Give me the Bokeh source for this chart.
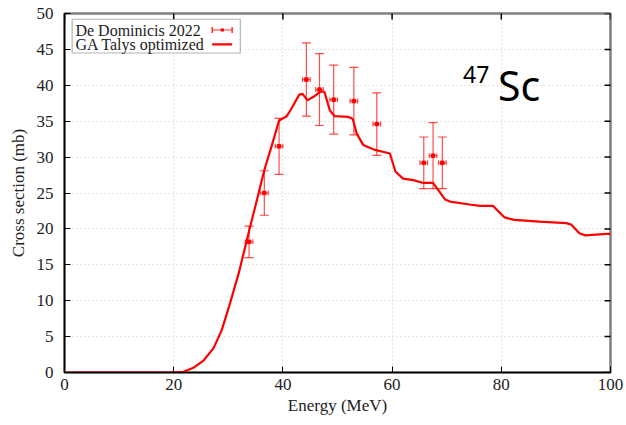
import math
from bokeh.plotting import figure
from bokeh.models import (ColumnDataSource, Whisker, TeeHead, Label, FixedTicker, Range1d,
                          BoxAnnotation, Arrow)
from bokeh.embed import file_html
from bokeh.resources import INLINE

# ---- data ----
energy_curve = [0.5, 5, 10, 15, 19.9, 21.8, 23.6, 25.5, 27.3, 28.8, 30.3, 31.9, 33.1, 34.0,
                35.3, 36.6, 38.0, 39.3, 40.7, 41.6, 43.0, 43.6, 44.5, 45.6,
                46.8, 47.6, 48.6, 49.5, 52.0, 52.8, 53.5, 54.7, 56.9, 59.6,
                60.6, 62.0, 63.9, 65.7, 67.5, 69.7, 70.6, 74.2, 76.1, 78.5,
                80.6, 82.4, 87.0, 91.9, 92.8, 94.3, 95.4, 99.3, 100]
sigma_curve = [0, 0, 0, 0, 0, 0.1, 0.65, 1.7, 3.4, 5.9, 9.6, 13.8, 17.5, 20.3,
               24.2, 28.2, 31.7, 35.1, 35.7, 36.8, 38.7, 38.8, 37.9, 38.4,
               39.1, 39.1, 36.5, 35.7, 35.6, 35.3, 33.3, 31.7, 31.0, 30.5,
               28.0, 27.0, 26.8, 26.4, 26.4, 24.1, 23.8, 23.4, 23.2, 23.2,
               21.6, 21.25, 21.0, 20.8, 20.6, 19.4, 19.1, 19.3, 19.3]

energy_exp = [33.8, 36.6, 39.3, 44.3, 46.7, 49.3, 53.0, 57.2, 65.8, 67.5, 69.2]
sigma_exp = [18.2, 25.0, 31.5, 40.8, 39.4, 38.0, 37.8, 34.6, 29.2, 30.2, 29.2]
sigma_err = [2.2, 3.1, 3.9, 5.1, 5.0, 4.8, 4.7, 4.35, 3.6, 4.6, 3.6]
energy_err = [0.7, 0.7, 0.7, 0.7, 0.7, 0.7, 0.7, 0.7, 0.7, 0.7, 0.7]

x_ticks = [0, 20, 40, 60, 80, 100]
y_ticks = [0, 5, 10, 15, 20, 25, 30, 35, 40, 45, 50]

legend_labels = ["De Dominicis 2022", "GA Talys optimized"]

RED = "#ff0000"
SERIF = "Liberation Serif"
TXT = "#222222"

src = ColumnDataSource(dict(
    x=energy_exp, y=sigma_exp,
    yl=[a - b for a, b in zip(sigma_exp, sigma_err)],
    yu=[a + b for a, b in zip(sigma_exp, sigma_err)],
    xl=[a - b for a, b in zip(energy_exp, energy_err)],
    xu=[a + b for a, b in zip(energy_exp, energy_err)],
))

p = figure(width=624, height=423, output_backend="svg", toolbar_location=None,
           x_range=Range1d(0, 100), y_range=Range1d(0, 50),
           min_border_left=64, min_border_right=14, min_border_top=13, min_border_bottom=51)
p.background_fill_color = "white"
p.border_fill_color = "white"
p.outline_line_color = "#808080"
p.outline_line_width = 2.5

# axes
for ax in (p.xaxis[0], p.yaxis[0]):
    ax.major_tick_in = 6
    ax.major_tick_out = 0
    ax.minor_tick_line_color = None
    ax.axis_line_color = "black"
    ax.axis_line_width = 1.5
    ax.major_label_text_font = SERIF
    ax.major_label_text_font_size = "17px"
    ax.major_label_text_color = TXT
    ax.axis_label_text_font = SERIF
    ax.axis_label_text_font_size = "17px"
    ax.axis_label_text_font_style = "normal"
    ax.axis_label_text_color = TXT
p.xaxis[0].ticker = FixedTicker(ticks=x_ticks)
p.yaxis[0].ticker = FixedTicker(ticks=y_ticks)
p.xaxis[0].axis_label = "Energy (MeV)"
p.yaxis[0].axis_label = "Cross section (mb)"
p.xaxis[0].major_label_standoff = 6
p.yaxis[0].major_label_standoff = 11
p.xaxis[0].axis_label_standoff = 3
p.yaxis[0].axis_label_standoff = 6

# grid
p.xgrid.ticker = FixedTicker(ticks=x_ticks)
p.ygrid.ticker = FixedTicker(ticks=y_ticks)
for g in (p.xgrid, p.ygrid):
    g.grid_line_color = "#c8c8c8"
    g.grid_line_dash = "1 3"
    g.grid_line_width = 1

# mirrored ticks on the right and top (clipped to the frame)
p.scatter(x=[p.x_range.end] * len(y_ticks), y=y_ticks, marker="dash", size=12,
          line_color="black", line_width=1.5)
p.scatter(x=x_ticks, y=[p.y_range.end] * len(x_ticks), marker="dash", size=12,
          angle=math.pi / 2, line_color="black", line_width=1.5)

# curve
curve = p.line(energy_curve, sigma_curve, line_color=RED, line_width=2.2)

# experimental points
def tee(size):
    return TeeHead(size=size, line_color=RED, line_alpha=0.7, line_width=1.2)

p.add_layout(Whisker(source=src, base="x", lower="yl", upper="yu", dimension="height",
                     line_color=RED, line_alpha=0.7, line_width=1.2,
                     upper_head=tee(9), lower_head=tee(9)))
p.add_layout(Whisker(source=src, base="y", lower="xl", upper="xu", dimension="width",
                     line_color=RED, line_alpha=0.7, line_width=1.2,
                     upper_head=tee(5), lower_head=tee(5)))
p.scatter(x="x", y="y", source=src, marker="square", size=3.5, color=RED)

# legend (gnuplot style: text left, sample right)
p.add_layout(BoxAnnotation(left=1.4, right=32.2, bottom=44.5, top=49.2,
                           fill_color="white", fill_alpha=1,
                           line_color="black", line_width=1.2, level="overlay"))
row_y = [47.7, 45.7]
for lab, yy in zip(legend_labels, row_y):
    p.add_layout(Label(x=2.0, y=yy, text=lab, text_font=SERIF, text_font_size="16px",
                       text_baseline="middle", text_align="left", text_color=TXT,
                       level="overlay"))
p.add_layout(Arrow(x_start=27.05, y_start=row_y[0], x_end=30.7, y_end=row_y[0],
                   line_color=RED, line_width=1.2, line_alpha=0.8,
                   start=TeeHead(size=6, line_color=RED, line_width=1.2),
                   end=TeeHead(size=6, line_color=RED, line_width=1.2), level="overlay"))
p.add_layout(BoxAnnotation(left=28.6, right=29.2, bottom=row_y[0] - 0.2, top=row_y[0] + 0.2,
                           fill_color=RED, fill_alpha=1, line_color=None, level="overlay"))
p.add_layout(Arrow(x_start=27.05, y_start=row_y[1], x_end=30.7, y_end=row_y[1],
                   line_color=RED, line_width=2.2, end=None, level="overlay"))

# nucleus label
p.add_layout(Label(x=73.0, y=42.7, text="47", text_font="Noto Sans", text_font_size="23px",
                   text_baseline="top", text_align="left", text_color="black"))
p.add_layout(Label(x=79.4, y=40.0, text="Sc", text_font="Noto Sans", text_font_size="41px",
                   text_baseline="alphabetic", text_align="left", text_color="black"))

open("out.html", "w").write(file_html(p, INLINE))
